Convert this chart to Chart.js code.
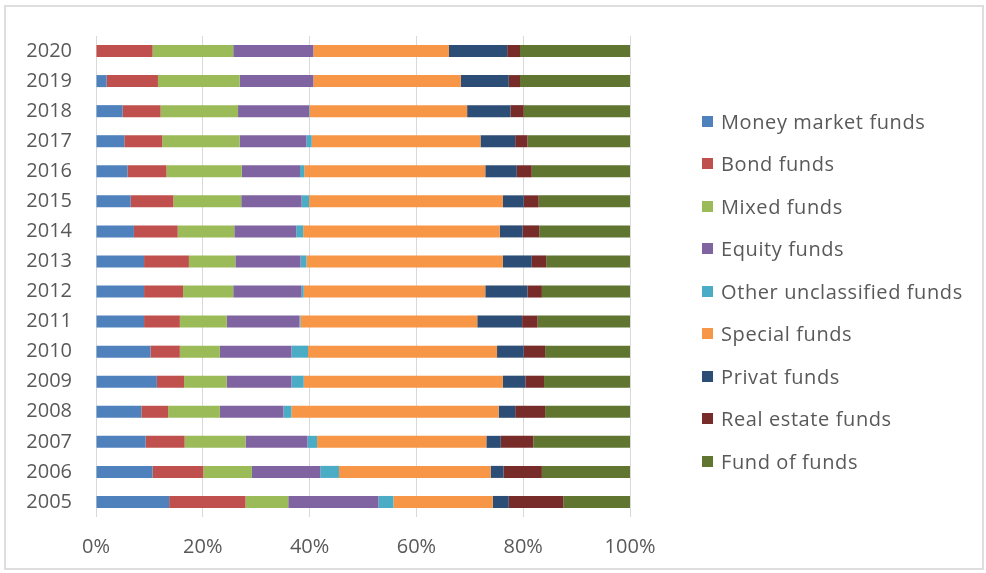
<!DOCTYPE html>
<html>
<head>
<meta charset="utf-8">
<title>Fund categories share</title>
<script src="https://cdn.jsdelivr.net/npm/chart.js@4/dist/chart.umd.min.js"></script>
<style>
  html, body { margin: 0; padding: 0; background: #fff; }
  body { width: 986px; height: 573px; position: relative; overflow: hidden; font-family: "Open Sans", Lato, sans-serif; }
  .frame { position: absolute; left: 4px; top: 5px; width: 976px; height: 561px; border: 2px solid #dedede; }
  #wrap { position: absolute; left: 0; top: 0; width: 986px; height: 573px; }
  #legend { position: absolute; left: 702px; top: 100px; margin: 0; padding: 0; list-style: none; }
  #legend li { height: 42.5px; display: flex; align-items: center; font-size: 20px; letter-spacing: 0.6px; color: #595959; white-space: nowrap; }
  #legend .box { width: 11px; height: 11px; margin-right: 8px; display: inline-block; }
</style>
</head>
<body>
<div class="frame"></div>
<div id="wrap"><canvas id="chart" width="986" height="573"></canvas></div>
<ul id="legend"></ul>

<script>
// ==================== data (share of each fund type, %) ====================

const years = ['2005', '2006', '2007', '2008', '2009', '2010', '2011', '2012',
               '2013', '2014', '2015', '2016', '2017', '2018', '2019', '2020'];

const moneyMarket = [13.7, 10.6, 9.3, 8.5, 11.4, 10.2, 9.0, 9.0, 9.0, 7.1, 6.5, 5.9, 5.3, 5.0, 2.0, 0];
const bond        = [14.3, 9.5, 7.3, 5.0, 5.1, 5.5, 6.7, 7.3, 8.4, 8.2, 8.0, 7.3, 7.1, 7.1, 9.6, 10.6];
const mixed       = [8.0, 9.1, 11.4, 9.7, 8.0, 7.5, 8.8, 9.4, 8.7, 10.6, 12.7, 14.1, 14.5, 14.5, 15.3, 15.1];
const equity      = [16.9, 12.8, 11.6, 11.9, 12.1, 13.4, 13.6, 12.8, 12.2, 11.6, 11.3, 10.9, 12.5, 13.3, 13.8, 15.0];
const other       = [2.8, 3.5, 1.8, 1.5, 2.3, 3.1, 0.2, 0.4, 1.1, 1.3, 1.4, 0.8, 1.0, 0.1, 0, 0];
const special     = [18.6, 28.4, 31.7, 38.8, 37.3, 35.4, 33.1, 34.0, 36.8, 36.8, 36.3, 33.9, 31.6, 29.5, 27.6, 25.4];
const privat      = [3.0, 2.4, 2.7, 3.1, 4.2, 5.0, 8.4, 7.9, 5.4, 4.3, 3.9, 5.9, 6.5, 8.1, 9.0, 10.9];
const realEstate  = [10.2, 7.2, 6.1, 5.6, 3.5, 4.0, 2.9, 2.7, 2.7, 3.1, 2.8, 2.8, 2.3, 2.5, 2.1, 2.4];
const fundOfFunds = [12.5, 16.5, 18.1, 15.9, 16.1, 15.9, 17.3, 16.5, 15.7, 17.0, 17.1, 18.4, 19.2, 19.9, 20.6, 20.6];

const xTicks = [0, 20, 40, 60, 80, 100];

const seriesNames = ['Money market funds', 'Bond funds', 'Mixed funds', 'Equity funds',
  'Other unclassified funds', 'Special funds', 'Privat funds', 'Real estate funds', 'Fund of funds'];
const seriesData = [moneyMarket, bond, mixed, equity, other, special, privat, realEstate, fundOfFunds];
const seriesColors = ['#4f81bd', '#c0504d', '#9bbb59', '#8064a2', '#4bacc6',
  '#f79646', '#2c4d75', '#772c2a', '#5f7530'];

// ==================== chart ====================

const textColor = '#595959';
const gridColor = '#d9d9d9';
const font = { family: '"Open Sans", Lato, sans-serif', size: 20 };

const ctx = document.getElementById('chart').getContext('2d');
const chart = new Chart(ctx, {
  type: 'bar',
  data: {
    labels: years,
    datasets: seriesNames.map((name, i) => ({
      label: name,
      data: seriesData[i],
      backgroundColor: seriesColors[i],
      borderWidth: 0,
      barPercentage: 1,
      categoryPercentage: 0.4
    }))
  },
  options: {
    indexAxis: 'y',
    responsive: false,
    animation: false,
    layout: { padding: { top: 33, right: 356, bottom: 0, left: 0 } },
    plugins: {
      legend: { display: false },
      tooltip: { enabled: false }
    },
    scales: {
      x: {
        stacked: true,
        min: 0,
        max: 100,
        afterBuildTicks: (s) => { s.ticks = xTicks.map(v => ({ value: v })); },
        ticks: { callback: v => v + '%', color: textColor, font: font, padding: 18 },
        grid: { color: gridColor, lineWidth: 1, drawTicks: false },
        border: { display: false },
        afterFit: (s) => { s.height = 56; }
      },
      y: {
        stacked: true,
        reverse: true,
        ticks: { color: textColor, font: font, padding: 24 },
        grid: { display: false, drawTicks: false },
        border: { display: false },
        afterFit: (s) => { s.width = 96; }
      }
    }
  }
});

// 图例用 HTML 画在右侧
document.getElementById('legend').innerHTML = chart.data.datasets.map(ds => `
  <li><span class="box" style="background:${ds.backgroundColor}"></span>${ds.label}</li>
`).join('');
</script>
</body>
</html>
